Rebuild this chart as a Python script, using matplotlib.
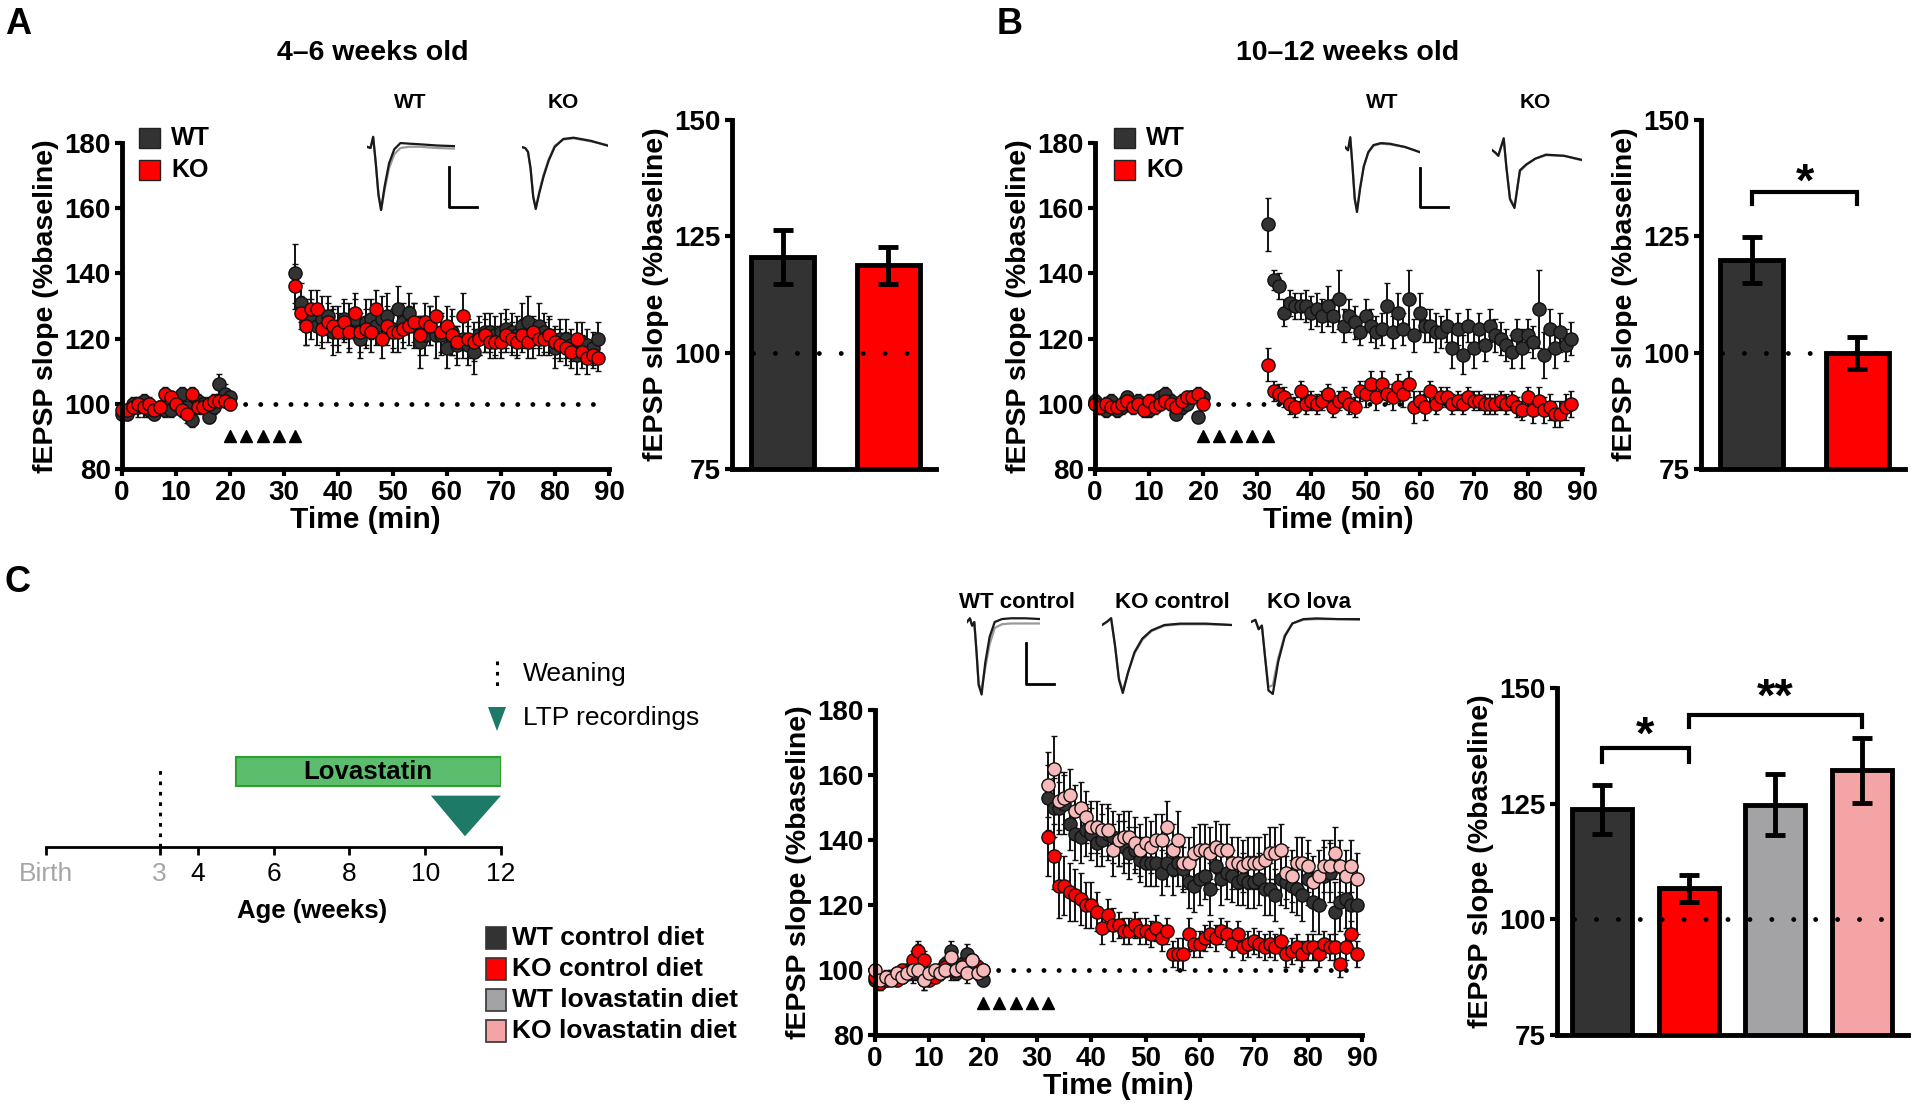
import numpy as np
import matplotlib.pyplot as plt
from matplotlib.patches import Rectangle, Polygon

plt.rcParams['font.family'] = ['Liberation Sans', 'DejaVu Sans']
plt.rcParams['font.weight'] = 'bold'
plt.rcParams['axes.labelweight'] = 'bold'

# ---------------- data ----------------
hfs_times = [20, 23, 26, 29, 32]
post_start = 32

# panel A (4-6 weeks)
a_wt_base = [97, 97, 100, 99, 101, 98, 97, 99, 98, 98, 100, 103, 99, 95, 101, 100, 96, 99, 106, 103, 102]
a_wt_base_err = [2, 2, 2, 3, 2, 2, 2, 2, 2, 2, 3, 2, 2, 2, 2, 2, 2, 2, 3, 3, 2]
a_ko_base = [98, 98, 99, 100, 99, 100, 98, 99, 103, 102, 100, 98, 97, 103, 99, 99, 100, 101, 101, 101, 100]
a_ko_base_err = [2, 2, 2, 2, 3, 2, 2, 2, 2, 2, 2, 2, 3, 2, 2, 2, 2, 2, 2, 2, 2]
a_wt_post = [140, 131, 125, 126, 124, 126, 127, 122, 124, 126,
             124, 126, 120, 125, 126, 124, 126, 127, 123, 129,
             125, 128, 124, 119, 121, 124, 121, 121, 117, 122,
             118, 120, 118, 116, 121, 122, 122, 121, 122, 123,
             122, 121, 124, 125, 120, 124, 122, 121, 117, 120,
             120, 118, 115, 119, 118, 117, 120]
a_wt_post_err = [9, 6, 7, 6, 6, 7, 6, 7, 6, 6,
                 7, 6, 6, 7, 6, 6, 7, 7, 6, 7,
                 6, 6, 7, 8, 6, 6, 7, 6, 6, 7,
                 6, 6, 6, 7, 6, 6, 6, 6, 6, 6,
                 6, 6, 7, 8, 6, 7, 6, 6, 6, 6,
                 6, 5, 6, 6, 5, 5, 5]
a_ko_post = [136, 128, 124, 129, 129, 123, 125, 124, 122, 125,
             122, 128, 122, 123, 122, 129, 120, 124, 122, 122,
             123, 124, 125, 121, 125, 124, 127, 122, 124, 121,
             119, 127, 120, 119, 120, 121, 119, 119, 119, 121,
             120, 119, 121, 119, 122, 120, 120, 121, 119, 118,
             117, 116, 120, 116, 114, 115, 114]
a_ko_post_err = [7, 5, 6, 6, 6, 6, 6, 6, 6, 6,
                 6, 6, 6, 6, 6, 6, 6, 6, 6, 6,
                 6, 6, 6, 6, 6, 6, 6, 6, 6, 6,
                 5, 7, 6, 6, 5, 5, 5, 5, 5, 5,
                 5, 5, 5, 5, 5, 5, 5, 5, 5, 5,
                 5, 5, 5, 5, 5, 4, 4]

# panel B (10-12 weeks)
b_wt_base = [101, 99, 98, 101, 98, 99, 102, 100, 101, 99, 98, 101, 102, 103, 101, 97, 99, 100, 102, 96, 102]
b_wt_base_err = [2, 2, 2, 2, 2, 2, 2, 2, 2, 2, 2, 2, 2, 2, 2, 2, 2, 2, 2, 0, 2]
b_ko_base = [100, 99, 100, 99, 99, 100, 101, 99, 100, 98, 101, 99, 100, 101, 100, 99, 101, 102, 102, 103, 100]
b_ko_base_err = [2, 2, 2, 2, 2, 2, 2, 2, 2, 2, 2, 2, 2, 2, 2, 2, 2, 2, 2, 2, 2]
b_wt_post = [155, 138, 136, 128, 131, 130, 130, 130, 128, 129,
             127, 130, 127, 132, 124, 127, 125, 122, 127, 124,
             122, 123, 130, 122, 128, 123, 132, 121, 128, 124,
             124, 122, 122, 124, 117, 123, 115, 124, 117, 123,
             118, 124, 121, 120, 118, 116, 121, 117, 121, 119,
             129, 115, 123, 117, 122, 118, 120]
b_wt_post_err = [8, 3, 4, 4, 4, 4, 4, 5, 5, 5,
                 5, 6, 5, 9, 5, 5, 5, 4, 5, 5,
                 5, 5, 7, 5, 6, 5, 9, 5, 6, 5,
                 5, 6, 5, 5, 6, 5, 6, 5, 6, 5,
                 5, 5, 5, 5, 5, 5, 5, 6, 5, 5,
                 12, 7, 6, 6, 6, 5, 5]
b_ko_post = [112, 104, 103, 102, 100, 99, 104, 100, 101, 100,
             101, 103, 99, 101, 102, 100, 99, 104, 103, 106,
             102, 106, 103, 102, 105, 103, 106, 99, 101, 99,
             104, 100, 102, 102, 100, 101, 100, 102, 101, 101,
             100, 100, 100, 101, 100, 101, 99, 98, 102, 98,
             101, 98, 99, 97, 97, 99, 100]
b_ko_post_err = [5, 3, 3, 3, 3, 3, 3, 3, 3, 3,
                 3, 3, 3, 3, 3, 3, 3, 3, 4, 4,
                 4, 4, 3, 4, 4, 4, 4, 5, 3, 4,
                 3, 3, 3, 3, 3, 3, 3, 3, 3, 3,
                 3, 3, 3, 3, 3, 3, 3, 3, 3, 4,
                 4, 4, 4, 4, 4, 4, 4]

# panel C (diet)
c_wt_base = [97, 96, 97, 98, 99, 98, 100, 99, 105, 97, 98, 99, 100, 102, 106, 99, 102, 105, 101, 99, 97]
c_ko_base = [98, 96, 97, 98, 97, 100, 99, 103, 106, 103, 97, 98, 99, 101, 100, 100, 101, 102, 103, 101, 100]
c_lova_base = [100, 97, 98, 97, 99, 98, 99, 100, 100, 97, 99, 100, 99, 100, 104, 100, 101, 99, 103, 99, 100]
c_base_err = [2, 2, 2, 2, 2, 2, 2, 3, 3, 3, 2, 2, 2, 2, 3, 2, 2, 3, 2, 2, 2]
c_wt_post = [153, 150, 150, 151, 145, 142, 141, 143, 142, 139,
             140, 142, 141, 139, 138, 136, 137, 134, 133, 133,
             133, 130, 133, 131, 133, 131, 127, 126, 128, 129,
             125, 132, 128, 130, 129, 127, 128, 127, 127, 128,
             125, 125, 123, 128, 127, 126, 125, 123, 128, 121,
             120, 129, 130, 118, 121, 122, 120, 120]
c_wt_post_err = [10, 9, 8, 9, 8, 8, 8, 8, 8, 7,
                 8, 8, 8, 7, 8, 8, 7, 7, 7, 7,
                 7, 7, 7, 8, 7, 7, 8, 8, 8, 7,
                 8, 7, 8, 8, 8, 7, 8, 8, 8, 8,
                 8, 8, 8, 8, 8, 8, 8, 8, 8, 9,
                 9, 9, 9, 9, 9, 9, 9, 9]
c_ko_post = [141, 135, 126, 126, 124, 123, 122, 120, 120, 118,
             113, 117, 114, 114, 112, 112, 114, 112, 112, 111,
             113, 110, 112, 105, 105, 105, 111, 108, 108, 110,
             111, 110, 112, 111, 108, 111, 107, 108, 109, 108,
             107, 108, 107, 109, 105, 106, 107, 105, 107, 107,
             105, 108, 107, 107, 102, 107, 111, 105]
c_ko_post_err = [12, 10, 10, 9, 9, 8, 8, 7, 7, 6,
                 5, 5, 5, 4, 4, 4, 4, 4, 4, 4,
                 4, 4, 4, 4, 5, 5, 5, 4, 4, 4,
                 4, 4, 4, 4, 4, 4, 4, 4, 4, 4,
                 4, 4, 4, 4, 4, 4, 4, 4, 4, 4,
                 4, 4, 4, 4, 4, 4, 4, 4]
c_lova_post = [157, 162, 152, 153, 154, 149, 150, 147, 144, 144,
               143, 143, 137, 140, 141, 141, 139, 137, 139, 138,
               140, 140, 144, 137, 140, 133, 133, 136, 137, 137,
               136, 138, 137, 137, 133, 133, 132, 133, 133, 133,
               134, 136, 136, 137, 130, 129, 133, 133, 132, 127,
               129, 132, 132, 136, 132, 129, 132, 128]
c_lova_post_err = [10, 10, 9, 8, 8, 8, 8, 8, 8, 8,
                   8, 8, 8, 8, 8, 8, 8, 8, 8, 8,
                   8, 8, 8, 8, 9, 8, 8, 8, 8, 8,
                   8, 8, 8, 8, 8, 8, 8, 8, 8, 8,
                   8, 8, 8, 8, 8, 8, 8, 8, 8, 8,
                   8, 8, 8, 8, 8, 8, 8, 8]

# bar summaries
bar_a_means = [120.5, 118.8]
bar_a_errs = [5.8, 4.0]
bar_b_means = [119.9, 99.9]
bar_b_errs = [5.0, 3.5]
bar_c_means = [123.8, 106.7, 124.8, 132.2]
bar_c_errs = [5.3, 2.9, 6.6, 7.0]

# timeline (weeks)
week_ticks = [0, 3, 4, 6, 8, 10, 12]
week_labels = ['Birth', '3', '4', '6', '8', '10', '12']
weaning_week = 3
lova_weeks = (5, 12)
ltp_week = 11

# example fEPSP traces (normalised: baseline 0, trough -1)
trace_t = [0, 0.04, 0.07, 0.10, 0.13, 0.16, 0.20, 0.25, 0.31, 0.38, 0.48, 0.60, 0.80, 1.0]
tr_a_wt = [0.02, 0.0, 0.18, -0.25, -0.75, -1.0, -0.62, -0.25, -0.02, 0.08, 0.07, 0.06, 0.04, 0.03]
tr_a_wt2 = [0.02, 0.0, 0.18, -0.25, -0.75, -1.0, -0.68, -0.33, -0.10, 0.0, 0.02, 0.02, 0.0, -0.01]
tr_a_ko = [0.0, -0.02, -0.08, -0.35, -0.80, -1.0, -0.75, -0.48, -0.22, 0.0, 0.13, 0.15, 0.10, 0.02]
tr_a_ko2 = [0.0, -0.02, -0.08, -0.35, -0.80, -0.98, -0.72, -0.45, -0.20, 0.02, 0.12, 0.14, 0.09, 0.03]
tr_b_wt = [0.0, -0.05, 0.15, -0.30, -0.80, -1.0, -0.65, -0.30, -0.08, 0.03, 0.06, 0.05, 0.0, -0.08]
tr_b_wt2 = [0.0, -0.05, 0.15, -0.30, -0.80, -0.98, -0.63, -0.30, -0.09, 0.02, 0.05, 0.04, 0.0, -0.08]
tr_b_ko = [0.0, -0.05, -0.10, 0.05, 0.20, -0.30, -0.85, -1.0, -0.35, -0.25, -0.15, -0.08, -0.10, -0.17]
tr_b_ko2 = [0.0, -0.05, -0.10, 0.05, 0.20, -0.30, -0.83, -0.97, -0.37, -0.26, -0.15, -0.09, -0.10, -0.18]
tr_c_wt = [0.0, 0.05, -0.05, 0.0, -0.40, -0.85, -0.98, -0.55, -0.20, 0.0, 0.04, 0.05, 0.05, 0.04]
tr_c_wt2 = [0.0, 0.05, -0.05, 0.0, -0.40, -0.85, -0.90, -0.62, -0.30, -0.08, -0.03, -0.02, -0.02, -0.02]
tr_c_ko = [0.0, 0.05, 0.10, -0.30, -0.80, -1.0, -0.70, -0.40, -0.20, -0.08, 0.0, 0.02, 0.02, 0.0]
tr_c_ko2 = [0.0, 0.05, 0.10, -0.30, -0.78, -0.97, -0.70, -0.42, -0.22, -0.09, -0.01, 0.01, 0.01, 0.0]
tr_c_lova = [0.0, 0.03, -0.10, -0.05, -0.50, -0.95, -1.0, -0.55, -0.20, -0.02, 0.04, 0.05, 0.04, 0.04]
tr_c_lova2 = [0.0, 0.03, -0.10, -0.05, -0.50, -0.90, -0.88, -0.50, -0.18, -0.02, 0.03, 0.04, 0.04, 0.03]

WT_C = '#333333'
KO_C = '#ff0000'
WTL_C = '#a3a3a6'
KOL_C = '#f4a4a4'
KOL_M = '#f7b9b9'
GREEN = '#5cbd6e'
TEAL = '#1d7a66'

# ---------------- figure ----------------
W, H = 1920, 1117
fig = plt.figure(figsize=(W / 100, H / 100), dpi=100)


def px_axes(x0, y0, x1, y1):
    return fig.add_axes([x0 / W, 1 - y1 / H, (x1 - x0) / W, (y1 - y0) / H])


# overlay in pixel coordinates for labels / legends
ov = px_axes(0, 0, W, H)
ov.set_xlim(0, W)
ov.set_ylim(H, 0)
ov.axis('off')
narrow = ['Liberation Sans Narrow', 'Liberation Sans']


def style(ax, yticks):
    ax.set_facecolor('none')
    for s in ['top', 'right']:
        ax.spines[s].set_visible(False)
    for s in ['left', 'bottom']:
        ax.spines[s].set_linewidth(3.5)
    ax.tick_params(width=3, length=5, labelsize=20, pad=3)
    ax.set_yticks(yticks)


def time_course(ax, groups):
    for base, base_err, post, post_err, color in groups:
        t = np.concatenate([np.arange(len(base)), np.arange(post_start, post_start + len(post))])
        y = np.concatenate([base, post])
        e = np.concatenate([base_err, post_err])
        eb = ax.errorbar(t, y, yerr=e, fmt='o', ms=9.5, mfc=color, mec='#111111', mew=1.0,
                         ecolor='#111111', elinewidth=1.4, capsize=2.5, capthick=1.4)
        for c in eb.get_children():
            c.set_clip_on(False)
    ax.plot([20, 88], [100, 100], ls=(0, (0.01, 3.1)), lw=3.5, dash_capstyle='round',
            color='black', zorder=0)
    ax.plot(hfs_times, [90] * len(hfs_times), '^', ms=9, color='black', ls='none')
    ax.set_xlim(0, 90)
    ax.set_ylim(80, 180)
    style(ax, [80, 100, 120, 140, 160, 180])
    ax.set_xticks(range(0, 91, 10))
    ax.set_xlabel('Time (min)', fontsize=21.5, labelpad=0)
    ax.set_ylabel('fEPSP slope (%baseline)', fontsize=20.5, labelpad=4)


def bar_chart(ax, means, errs, colors, width, xlim):
    x = np.arange(len(means))
    ax.bar(x, means, width=width, color=colors, edgecolor='black', linewidth=3.5, zorder=2)
    ax.errorbar(x, means, yerr=errs, fmt='none', ecolor='black', elinewidth=3.5,
                capsize=7, capthick=3.5, zorder=4)
    ax.plot([-width / 2 + 0.02, len(means) - 1 + width / 2 - 0.02], [100, 100],
            ls=(0, (0.01, 4.5)), lw=3.5, dash_capstyle='round', color='black', zorder=3)
    ax.set_xlim(*xlim)
    ax.set_ylim(75, 150)
    ax.set_xticks([])
    style(ax, [75, 100, 125, 150])
    ax.set_ylabel('fEPSP slope (%baseline)', fontsize=20.5, labelpad=4)


def bracket(ax, x0, x1, y, drop, label, label_y, fs):
    ax.plot([x0, x0, x1, x1], [y - drop, y, y, y - drop], color='black', lw=3,
            clip_on=False, solid_joinstyle='miter')
    ax.text((x0 + x1) / 2, label_y, label, ha='center', va='center', fontsize=fs,
            fontweight='bold', clip_on=False)


def trace(x0, x1, y_base, y_trough, v_black, v_gray):
    sc = y_trough - y_base
    ax = px_axes(x0, y_base - 0.3 * sc, x1, y_trough + 0.1 * sc)
    ax.plot(trace_t, v_gray, color='#9a9a9a', lw=1.6)
    ax.plot(trace_t, v_black, color='#1a1a1a', lw=1.6)
    ax.set_xlim(0, 1)
    ax.set_ylim(-1.1, 0.3)
    ax.axis('off')


def scale_bar(x, y_top, y_bot, x_end):
    ov.plot([x, x, x_end], [y_top, y_bot, y_bot], color='black', lw=2)


# ---- panel A ----
ax_a = px_axes(122, 143, 609, 469)
time_course(ax_a, [(a_wt_base, a_wt_base_err, a_wt_post, a_wt_post_err, WT_C),
                   (a_ko_base, a_ko_base_err, a_ko_post, a_ko_post_err, KO_C)])
ax_ab = px_axes(732, 120, 936, 469)
bar_chart(ax_ab, bar_a_means, bar_a_errs, [WT_C, KO_C], 0.6, (-0.48, 1.45))

# ---- panel B ----
ax_b = px_axes(1095, 143, 1582, 469)
time_course(ax_b, [(b_wt_base, b_wt_base_err, b_wt_post, b_wt_post_err, WT_C),
                   (b_ko_base, b_ko_base_err, b_ko_post, b_ko_post_err, KO_C)])
ax_bb = px_axes(1701, 120, 1905, 469)
bar_chart(ax_bb, bar_b_means, bar_b_errs, [WT_C, KO_C], 0.6, (-0.48, 1.45))
bracket(ax_bb, 0, 1, 134.5, 2.6, '*', 136.3, 34)

# ---- panel C ----
ax_c = px_axes(875, 710, 1362, 1035)
time_course(ax_c, [(c_wt_base, c_base_err, c_wt_post, c_wt_post_err, WT_C),
                   (c_ko_base, c_base_err, c_ko_post, c_ko_post_err, KO_C),
                   (c_lova_base, c_base_err, c_lova_post, c_lova_post_err, KOL_M)])
ax_cb = px_axes(1557, 688, 1908, 1035)
bar_chart(ax_cb, bar_c_means, bar_c_errs, [WT_C, KO_C, WTL_C, KOL_C], 0.69, (-0.52, 3.53))
bracket(ax_cb, 0, 1, 137, 3, '*', 139.5, 34)
bracket(ax_cb, 1, 3, 144.2, 2.6, '**', 147.7, 34)

# timeline
ax_t = px_axes(46, 740, 501, 847)
ax_t.set_facecolor('none')
ax_t.set_xlim(0, 12)
ax_t.set_ylim(0, 1)
for s in ['top', 'right', 'left']:
    ax_t.spines[s].set_visible(False)
ax_t.spines['bottom'].set_linewidth(2)
ax_t.set_yticks([])
ax_t.set_xticks(week_ticks)
ax_t.set_xticklabels(week_labels, fontsize=19, fontweight='normal', family=narrow)
ax_t.tick_params(axis='x', width=2, length=6, pad=5)
for lab, col in zip(ax_t.get_xticklabels(), ['#a6a6a6', '#a6a6a6'] + ['black'] * 5):
    lab.set_color(col)
ax_t.plot([weaning_week, weaning_week], [0, 0.73], ls=(0, (1.2, 2.2)), lw=2.2, color='black')
ax_t.add_patch(Rectangle((lova_weeks[0], 0.57), lova_weeks[1] - lova_weeks[0], 0.27,
                         facecolor=GREEN, edgecolor='#2ca02c', lw=1.5))
ax_t.text(sum(lova_weeks) / 2, 0.705, 'Lovastatin', ha='center', va='center', fontsize=18.5,
          family=narrow, fontweight='bold')
ax_t.add_patch(Polygon([(ltp_week - 0.85, 0.48), (12, 0.48), (ltp_week + 0.05, 0.10)],
                       closed=True, facecolor=TEAL, edgecolor='none'))
ov.text(312, 911, 'Age (weeks)', fontsize=18.5, family=narrow, ha='center', va='center')

# ---- overlay labels ----
ov.text(18, 24, 'A', fontsize=26, ha='center', va='center')
ov.text(1010, 24, 'B', fontsize=26, ha='center', va='center')
ov.text(18, 582, 'C', fontsize=26, ha='center', va='center')
ov.text(373, 53, '4\u20136 weeks old', fontsize=20.5, ha='center', va='center')
ov.text(1348, 53, '10\u201312 weeks old', fontsize=20.5, ha='center', va='center')

for lx, tx in [(139, 171), (1114, 1146)]:
    for yc, col, name in [(138, WT_C, 'WT'), (170, KO_C, 'KO')]:
        ov.add_patch(Rectangle((lx, yc - 10), 21, 20, facecolor=col, edgecolor='#222222', lw=1))
        ov.text(tx, yc, name, fontsize=18, ha='left', va='center')

for xc, name in [(410, 'WT'), (563, 'KO'), (1382, 'WT'), (1535, 'KO')]:
    ov.text(xc, 103, name, fontsize=15, ha='center', va='center')
for xc, name in [(1017, 'WT control'), (1172, 'KO control'), (1309, 'KO lova')]:
    ov.text(xc, 602, name, fontsize=16, ha='center', va='center')

# traces
trace(367, 455, 148, 210, tr_a_wt, tr_a_wt2)
trace(522, 608, 147, 209, tr_a_ko, tr_a_ko2)
trace(1345, 1420, 147, 212, tr_b_wt, tr_b_wt2)
trace(1492, 1582, 150, 208, tr_b_ko, tr_b_ko2)
trace(967, 1040, 622, 696, tr_c_wt, tr_c_wt2)
trace(1102, 1232, 625, 693, tr_c_ko, tr_c_ko2)
trace(1251, 1360, 622, 694, tr_c_lova, tr_c_lova2)
scale_bar(449, 167, 207, 477)
scale_bar(1420, 168, 207, 1448)
scale_bar(1026, 643, 684, 1054)

# timeline legend
ov.plot([497, 497], [661, 691], ls=(0, (1.2, 2.2)), lw=2.2, color='black')
ov.text(523, 674, 'Weaning', fontsize=19, fontweight='normal', family=narrow, va='center')
ov.add_patch(Polygon([(488, 707), (506, 707), (497, 731)], closed=True, facecolor=TEAL,
                     edgecolor='none'))
ov.text(523, 718, 'LTP recordings', fontsize=19, fontweight='normal', family=narrow, va='center')

for yc, col, name in [(938, WT_C, 'WT control diet'), (969, KO_C, 'KO control diet'),
                      (1000, WTL_C, 'WT lovastatin diet'), (1031, KOL_C, 'KO lovastatin diet')]:
    ov.add_patch(Rectangle((486, yc - 11), 20, 22, facecolor=col, edgecolor='#333333', lw=1.2))
    ov.text(512, yc, name, fontsize=19, ha='left', va='center')

fig.savefig('out.png', dpi=100)
